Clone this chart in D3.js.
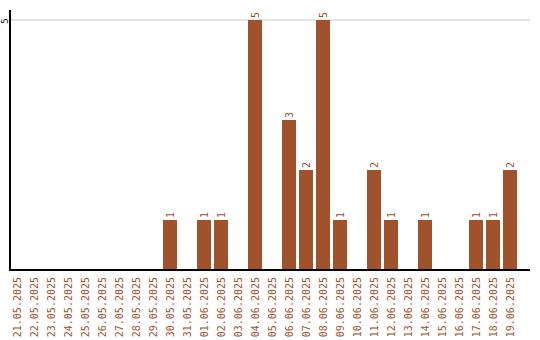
<!DOCTYPE html>
<html>
<head>
<meta charset="utf-8">
<script src="https://cdn.jsdelivr.net/npm/d3@7"></script>
<style>
  body { margin: 0; background: #fff; }
  text { font-family: "DejaVu Sans Mono", monospace; fill: #a0522d; }
</style>
</head>
<body>
<div id="chart"></div>
<script>
// dates shown on the x axis
const dates = [
  '21.05.2025', '22.05.2025', '23.05.2025', '24.05.2025', '25.05.2025',
  '26.05.2025', '27.05.2025', '28.05.2025', '29.05.2025', '30.05.2025',
  '31.05.2025', '01.06.2025', '02.06.2025', '03.06.2025', '04.06.2025',
  '05.06.2025', '06.06.2025', '07.06.2025', '08.06.2025', '09.06.2025',
  '10.06.2025', '11.06.2025', '12.06.2025', '13.06.2025', '14.06.2025',
  '15.06.2025', '16.06.2025', '17.06.2025', '18.06.2025', '19.06.2025'
];
const counts = [
  0, 0, 0, 0, 0, 0, 0, 0, 0, 1,
  0, 1, 1, 0, 5, 0, 3, 2, 5, 1,
  0, 2, 1, 0, 1, 0, 0, 1, 1, 2
];
const yTicks = [5];

const width = 540;
const height = 340;

const svg = d3.select('#chart')
  .append('svg')
  .attr('width', width)
  .attr('height', height);

const x = d3.scaleBand().domain(dates).range([10, 520]).padding(0);
const y = d3.scaleLinear().domain([0, 5]).range([270, 20]);

// gridlines
svg.selectAll('.grid')
  .data(yTicks)
  .enter()
  .append('line')
  .attr('x1', 11)
  .attr('x2', 530)
  .attr('y1', (d) => y(d))
  .attr('y2', (d) => y(d))
  .attr('stroke', '#c8c8c8')
  .attr('stroke-width', 1);

// bars
const data = dates.map((d, i) => ({ date: d, value: counts[i] }));
svg.selectAll('.bar')
  .data(data.filter((d) => d.value > 0))
  .enter()
  .append('rect')
  .attr('x', (d) => x(d.date))
  .attr('y', (d) => y(d.value))
  .attr('width', x.bandwidth() - 3)
  .attr('height', (d) => y(0) - y(d.value))
  .attr('fill', '#a0522d');

// value labels
svg.selectAll('.val')
  .data(data.filter((d) => d.value > 0))
  .enter()
  .append('text')
  .attr('transform', (d) => `translate(${x(d.date) + (x.bandwidth() - 3) / 2},${y(d.value) - 2}) rotate(-90)`)
  .attr('dy', '0.35em')
  .style('font-size', '10px')
  .text((d) => d.value);

// axes lines
svg.append('line')
  .attr('x1', 10).attr('x2', 10)
  .attr('y1', 10).attr('y2', 271)
  .attr('stroke', '#000').attr('stroke-width', 2);
svg.append('line')
  .attr('x1', 9).attr('x2', 530)
  .attr('y1', 270).attr('y2', 270)
  .attr('stroke', '#000').attr('stroke-width', 2);

// y tick labels
svg.selectAll('.ytick')
  .data(yTicks)
  .enter()
  .append('text')
  .attr('transform', (d) => `translate(5,${y(d) + 1}) rotate(-90)`)
  .attr('dy', '0.35em')
  .attr('text-anchor', 'middle')
  .style('font-size', '9px')
  .style('fill', '#000')
  .text((d) => d);

// x tick labels
svg.selectAll('.xtick')
  .data(dates)
  .enter()
  .append('text')
  .attr('transform', (d) => `translate(${x(d) + 7},277) rotate(-90)`)
  .attr('dy', '0.35em')
  .attr('text-anchor', 'end')
  .style('font-size', '10px')
  .text((d) => d);
</script>
</body>
</html>
